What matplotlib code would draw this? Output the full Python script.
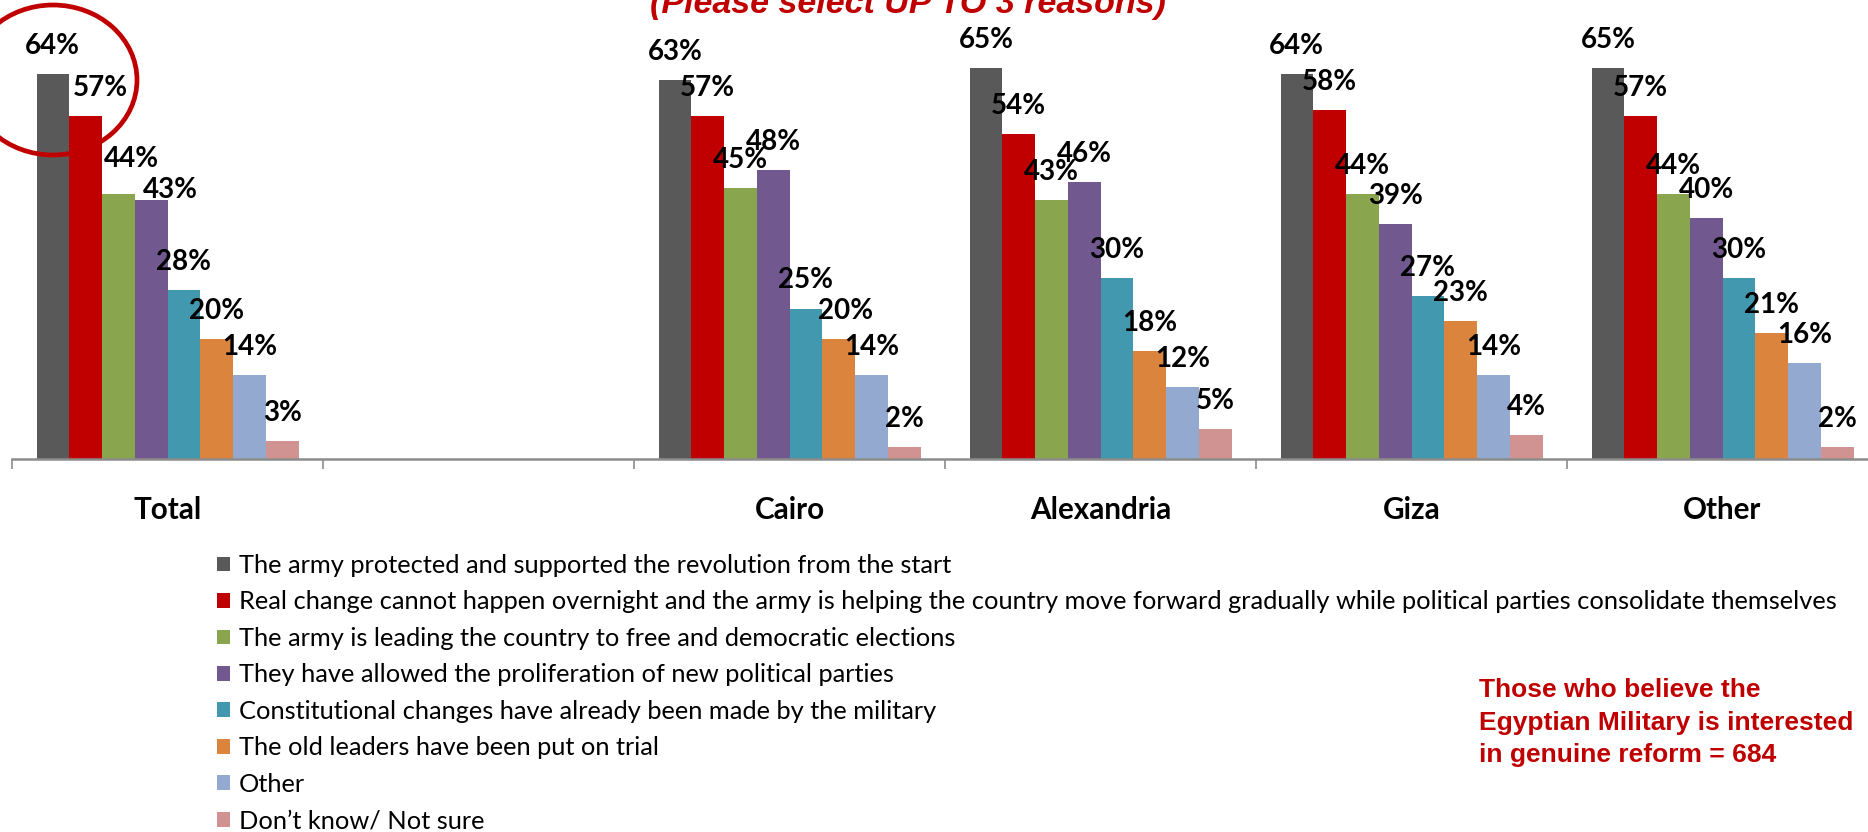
import matplotlib
matplotlib.use("Agg")
import matplotlib.pyplot as plt
from matplotlib.patches import Ellipse, Patch
import numpy as np

# data
regions = ["Total", "", "Cairo", "Alexandria", "Giza", "Other"]
reasons = [
    "The army protected and supported the revolution from the start",
    "Real change cannot happen overnight and the army is helping the country move forward gradually while political parties consolidate themselves",
    "The army is leading the country to free and democratic elections",
    "They have allowed the proliferation of new political parties",
    "Constitutional changes have already been made by the military",
    "The old leaders have been put on trial",
    "Other",
    "Don\u2019t know/ Not sure",
]
total = [64, 57, 44, 43, 28, 20, 14, 3]
cairo = [63, 57, 45, 48, 25, 20, 14, 2]
alexandria = [65, 54, 43, 46, 30, 18, 12, 5]
giza = [64, 58, 44, 39, 27, 23, 14, 4]
other = [65, 57, 44, 40, 30, 21, 16, 2]
colors = ["#595959", "#C00000", "#89A54E", "#71588F", "#4198AF", "#DB843D", "#93A9CF", "#D19392"]

series_by_region = {0: total, 2: cairo, 3: alexandria, 4: giza, 5: other}

# a few labels were dragged by hand in the original (pixels: dx, dy up)
label_nudge = {(0, 1): (15, 0), (0, 2): (13, 7), (0, 3): (19, -18), (2, 5): (7, 0)}

W, H = 1868, 832
fig = plt.figure(figsize=(W / 100, H / 100), dpi=100)
ax = fig.add_axes([12 / W, (H - 459) / H, 1866 / W, 421.4 / H])

bw = 32.75 / 311
for ri, vals in series_by_region.items():
    for j, v in enumerate(vals):
        x = ri + (j - 3.5) * bw
        ax.bar(x, v, width=bw, color=colors[j], linewidth=0)
        dx, dy = label_nudge.get((ri, j), (0, 0))
        ax.annotate(f"{v}%", xy=(x, v), xytext=(dx * 0.72, (20 + dy) * 0.72),
                    textcoords="offset points", ha="center", va="baseline",
                    fontsize=20, fontweight="bold", family="Lato", color="black")

ax.set_xlim(-0.5, 5.5)
ax.set_ylim(0, 70)
for s in ["left", "right", "top"]:
    ax.spines[s].set_visible(False)
ax.spines["bottom"].set_color("#8C8C8C")
ax.spines["bottom"].set_linewidth(1.8)
ax.set_yticks([])
ax.set_xticks(np.arange(-0.5, 6, 1))
ax.set_xticklabels([])
ax.tick_params(axis="x", direction="out", length=7.2, width=1.2, color="#8C8C8C")

for i, name in enumerate(regions):
    ax.text(i, -60 / 421.4, name, transform=ax.get_xaxis_transform(),
            ha="center", va="baseline", fontsize=21.3, fontweight="bold",
            family="Lato", color="black")

handles = [Patch(facecolor=c, edgecolor="none") for c in colors]
fig.legend(handles, reasons, loc="upper left", bbox_to_anchor=(217 / W, 1 - 554 / H),
           frameon=False, borderpad=0, borderaxespad=0, prop={"family": "Lato", "size": 18.3},
           handlelength=0.52, handleheight=0.52, handletextpad=0.33, labelspacing=0.53)

fig.text(1479 / W, 1 - 678 / H,
         "Those who believe the\nEgyptian Military is interested\nin genuine reform = 684",
         ha="left", va="top", fontsize=19, fontweight="bold",
         family="Liberation Sans", color="#C00000", linespacing=1.45)

fig.text(908 / W, 1 - 13 / H, "(Please select UP TO 3 reasons)", ha="center",
         va="baseline", fontsize=24.5, fontweight="bold", fontstyle="italic",
         family="Liberation Sans", color="#C00000")

fig.add_artist(Ellipse((53 / W, 1 - 80 / H), 168 / W, 150 / H, transform=fig.transFigure,
                       fill=False, edgecolor="#C00000", linewidth=3.4))

fig.savefig("out.png", dpi=100)
